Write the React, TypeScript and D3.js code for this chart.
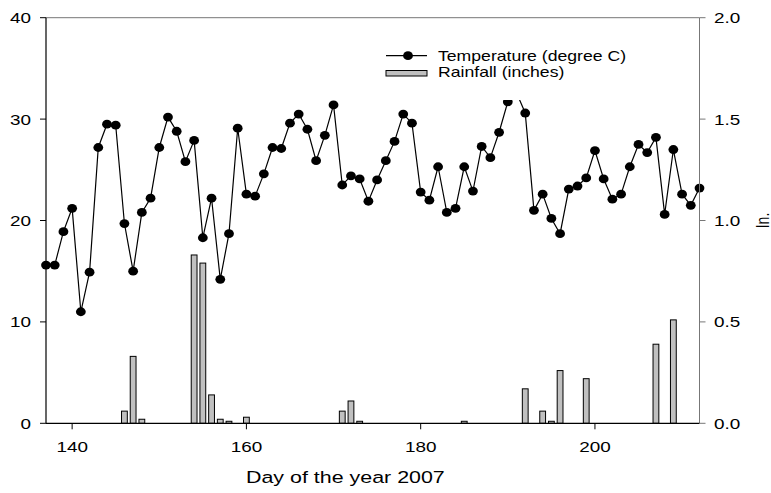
import React from "react";
import * as d3 from "d3";

// Daily mean temperature (degree C), days 137–212 of 2007
const tempDays: number[] = d3.range(137, 213);
const tempValues: number[] = [
  15.6, 15.6, 18.9, 21.2, 11.0, 14.9, 27.2, 29.5, 29.4, 19.7,
  15.0, 20.8, 22.2, 27.2, 30.2, 28.8, 25.8, 27.9, 18.3, 22.2,
  14.2, 18.7, 29.1, 22.6, 22.4, 24.6, 27.2, 27.1, 29.6, 30.5,
  29.0, 25.9, 28.4, 31.4, 23.5, 24.4, 24.1, 21.9, 24.0, 25.9,
  27.8, 30.5, 29.6, 22.8, 22.0, 25.3, 20.8, 21.2, 25.3, 22.9,
  27.3, 26.2, 28.7, 31.7, 32.6, 30.6, 21.0, 22.6, 20.2, 18.7,
  23.1, 23.4, 24.2, 26.9, 24.1, 22.1, 22.6, 25.3, 27.5, 26.7,
  28.2, 20.6, 27.0, 22.6, 21.5, 23.2,
];

// Daily rainfall (inches) on days with rain
const rainDays: number[] = [146, 147, 148, 154, 155, 156, 157, 158, 160, 171, 172, 173, 185, 192, 194, 195, 196, 199, 207, 209];
const rainValues: number[] = [0.06, 0.33, 0.02, 0.83, 0.79, 0.14, 0.02, 0.01, 0.03, 0.06, 0.11, 0.01, 0.01, 0.17, 0.06, 0.01, 0.26, 0.22, 0.39, 0.51];

const xTicks: number[] = [140, 160, 180, 200];
const leftTicks: number[] = [0, 10, 20, 30, 40];
const rightTicks: number[] = [0, 0.5, 1.0, 1.5, 2.0];

const W = 771;
const H = 493;
const left = 46;
const right = 699.5;
const top = 17.7;
const bottom = 423.3;
const FONT = "'Liberation Sans', Arial, Helvetica, sans-serif";
const SX = 1.26; // horizontal glyph widening used throughout

const x = d3.scaleLinear().domain([137, 212]).range([left, right]);
const yT = d3.scaleLinear().domain([0, 40]).range([bottom, top]);
const yR = d3.scaleLinear().domain([0, 2]).range([bottom, top]);

type TProps = { x: number; y: number; size: number; anchor?: string; children: React.ReactNode };
const T = ({ x, y, size, anchor = "start", children }: TProps) => (
  <text
    transform={`translate(${x},${y}) scale(${SX},1)`}
    textAnchor={anchor}
    fontSize={size}
    fontFamily={FONT}
    fill="#000"
  >
    {children}
  </text>
);

export default function App() {
  const line = d3
    .line<number>()
    .x((_, i) => x(tempDays[i]))
    .y((d) => yT(d));
  const barW = 5.8;

  return (
    <svg width={W} height={H} style={{ position: "absolute", left: 0, top: 0, background: "#fff" }}>
      <rect x={0} y={0} width={W} height={H} fill="#fff" />

      {/* rainfall bars */}
      {rainDays.map((d, i) => (
        <rect
          key={`r${d}`}
          x={x(d) - barW / 2}
          y={yR(rainValues[i])}
          width={barW}
          height={bottom - yR(rainValues[i])}
          fill="#c0c0c0"
          stroke="#000"
          strokeWidth={1}
        />
      ))}

      {/* temperature line with markers */}
      <path d={line(tempValues) || ""} fill="none" stroke="#000" strokeWidth={1.2} />
      {tempValues.map((v, i) => (
        <ellipse key={`t${i}`} cx={x(tempDays[i])} cy={yT(v)} rx={4.9} ry={4.4} fill="#000" />
      ))}

      {/* legend */}
      <rect x={378} y={36} width={266} height={64} fill="#fff" />
      <line x1={386} x2={427} y1={55.7} y2={55.7} stroke="#000" strokeWidth={1.2} />
      <ellipse cx={408} cy={55.7} rx={4.9} ry={4.4} fill="#000" />
      <T x={438} y={60.5} size={14}>Temperature (degree C)</T>
      <rect x={386} y={70.5} width={41} height={5.5} fill="#c0c0c0" stroke="#000" strokeWidth={1} />
      <T x={438} y={77} size={14}>Rainfall (inches)</T>

      {/* frame */}
      <line x1={left} x2={right} y1={top} y2={top} stroke="#777" strokeWidth={1} />
      <line x1={right} x2={right} y1={top} y2={bottom} stroke="#777" strokeWidth={1} />
      <line x1={left} x2={left} y1={top} y2={bottom} stroke="#000" strokeWidth={1.2} />
      <line x1={left} x2={right} y1={bottom} y2={bottom} stroke="#000" strokeWidth={1.2} />

      {/* left axis */}
      {leftTicks.map((t) => (
        <g key={`l${t}`}>
          <line x1={left - 6} x2={left} y1={yT(t)} y2={yT(t)} stroke="#000" strokeWidth={1} />
          <T x={31} y={yT(t) + 5.4} size={15} anchor="end">{t}</T>
        </g>
      ))}

      {/* right axis */}
      {rightTicks.map((t) => (
        <g key={`rt${t}`}>
          <line x1={right} x2={right + 6} y1={yR(t)} y2={yR(t)} stroke="#777" strokeWidth={1} />
          <T x={714} y={yR(t) + 5.4} size={15}>{t.toFixed(1)}</T>
        </g>
      ))}
      <text
        transform={`translate(769,${(top + bottom) / 2}) rotate(-90) scale(1,${SX})`}
        textAnchor="middle"
        fontSize={14}
        fontFamily={FONT}
      >
        In.
      </text>

      {/* bottom axis */}
      {xTicks.map((t) => (
        <g key={`x${t}`}>
          <line x1={x(t)} x2={x(t)} y1={bottom} y2={bottom + 6} stroke="#000" strokeWidth={1} />
          <T x={x(t)} y={452} size={15} anchor="middle">{t}</T>
        </g>
      ))}
      <T x={246} y={483} size={17}>Day of the year 2007</T>
    </svg>
  );
}
